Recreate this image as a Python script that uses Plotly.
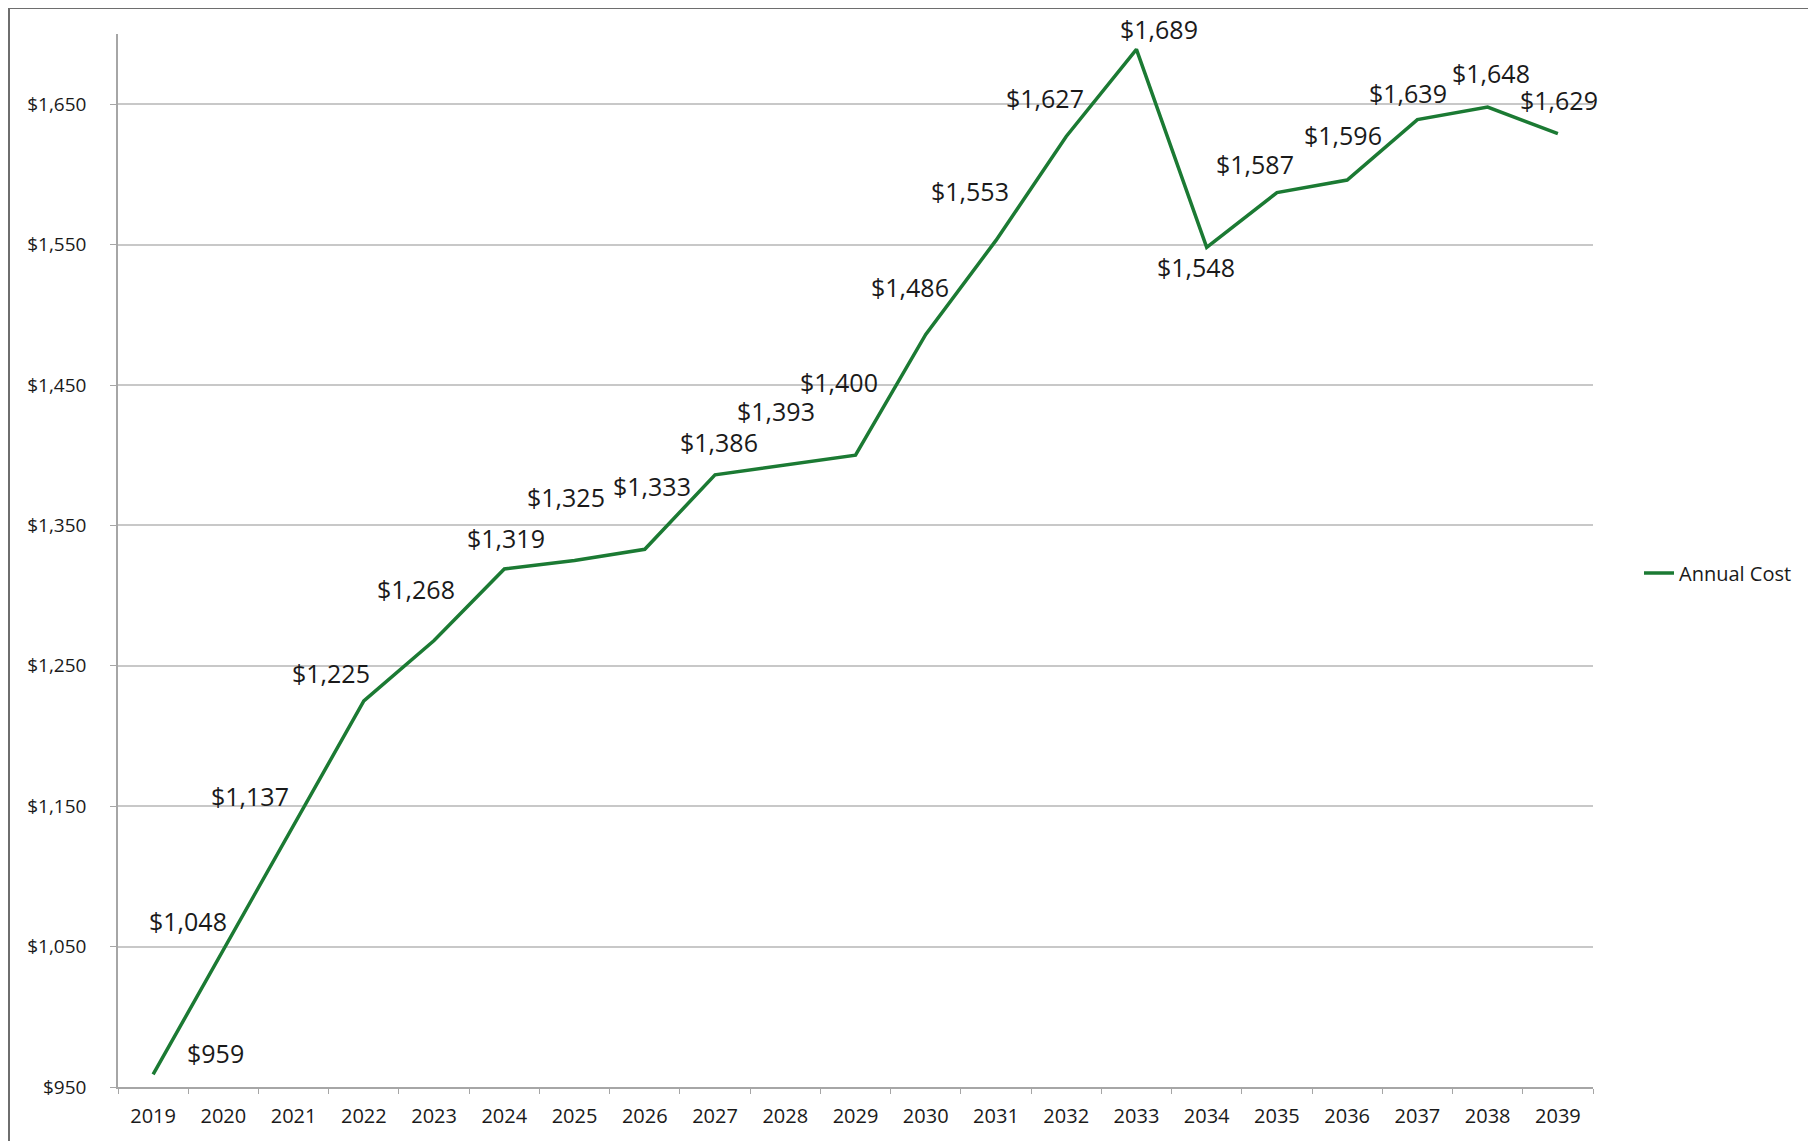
import plotly.graph_objects as go

years = [str(y) for y in range(2019, 2040)]
annual_cost = [959, 1048, 1137, 1225, 1268, 1319, 1325, 1333, 1386, 1393, 1400,
               1486, 1553, 1627, 1689, 1548, 1587, 1596, 1639, 1648, 1629]
series_name = "Annual Cost"
y_ticks = [950, 1050, 1150, 1250, 1350, 1450, 1550, 1650]
y_tick_labels = ["$950", "$1,050", "$1,150", "$1,250", "$1,350", "$1,450", "$1,550", "$1,650"]

# label placement offsets (pixels, dx right, dy up) as drawn in the original
label_dx = [62, -35, -44, -33, -18, 2, -9, 7, 4, -9, -17, -16, -26, -21, 23, -11, -22, -4, -9, 3, 1]
label_dy = [21, 28, 28, 28, 52, 31, 64, 63, 33, 54, 73, 47, 49, 38, 20, -20, 29, 45, 27, 34, 34]

LINE = "#1B7A33"
TXT = "#1A1A1A"
GRID = "#C8C8C8"
FRAME = "#6E6E6E"

fig = go.Figure()
fig.add_trace(go.Scatter(
    x=years, y=annual_cost, mode="lines", name=series_name,
    line=dict(color=LINE, width=3.5),
))

# annotations use the category index on the category axis
for i, (v, dx, dy) in enumerate(zip(annual_cost, label_dx, label_dy)):
    fig.add_annotation(x=i, y=v, xref="x", yref="y", text=f"${v:,}", showarrow=False,
                       xshift=dx, yshift=dy,
                       font=dict(family="Open Sans", size=25, color=TXT))

OFF = 8  # page body margin
W, H = 1808, 1133
L, T = 110, 26
pw, ph = 1475, 1055
R, B = W - L - pw, H - T - ph


def px(x):
    return (x - OFF - L) / pw


def py(y):
    return (T + ph - (y - OFF)) / ph


# outer frame: left, top, right edges
for (xa, ya, xb, yb) in [(9, 1160, 9, 8), (9, 8, 1812, 8), (1812, 8, 1812, 1160)]:
    fig.add_shape(type="line", xref="paper", yref="paper",
                  x0=px(xa), y0=py(ya), x1=px(xb), y1=py(yb),
                  line=dict(color=FRAME, width=2), layer="below")

fig.update_layout(
    width=W, height=H,
    margin=dict(l=L, r=R, t=T, b=B),
    paper_bgcolor="white", plot_bgcolor="white",
    font=dict(family="Open Sans", color=TXT),
    showlegend=True,
    legend=dict(x=px(1639), y=py(574), xanchor="left", yanchor="middle",
                font=dict(size=20, color=TXT), itemwidth=30,
                bgcolor="rgba(0,0,0,0)"),
    xaxis=dict(type="category", showgrid=False, showline=True, linecolor="#A6A6A6",
               linewidth=1.5, ticks="outside", tickson="boundaries", ticklen=5,
               tickcolor="#A6A6A6", tickfont=dict(size=20, color=TXT),
               ticklabelstandoff=10, range=[-0.5, 20.5]),
    yaxis=dict(range=[950, 1700], tickvals=y_ticks, ticktext=y_tick_labels,
               showgrid=True, gridcolor=GRID, gridwidth=1.5,
               showline=True, linecolor="#A6A6A6", linewidth=1.5,
               ticks="outside", ticklen=6, tickcolor="#A6A6A6",
               tickfont=dict(size=19, color=TXT), ticklabelstandoff=20,
               zeroline=False),
)

fig.write_html("out.html")
